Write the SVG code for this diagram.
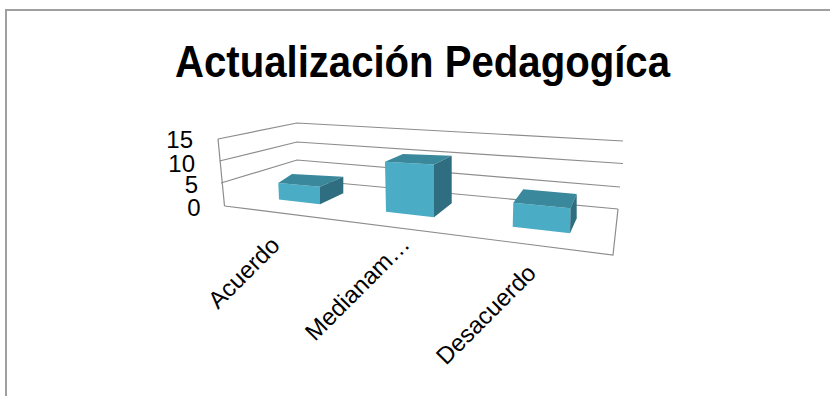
<svg xmlns="http://www.w3.org/2000/svg" width="830" height="396" viewBox="0 0 830 396">
<style>
.grid{stroke:#8c8c8c;stroke-width:1.2;fill:none}
.lbl{font-family:"Liberation Sans",Arial,sans-serif;font-size:24px;fill:#000}
.front{fill:#4bacc6}
.top{fill:#3a889c}
.side{fill:#2e6e80}
</style>
<rect x="6" y="10" width="830" height="400" fill="#fff" stroke="#a0a0a0" stroke-width="2"/>
<text id="title" x="175" y="77" font-family="'Liberation Sans',Arial,sans-serif" font-weight="bold" font-size="44" textLength="495" lengthAdjust="spacingAndGlyphs">Actualización Pedagogíca</text>
<g id="axes">
<polyline class="grid" points="218,139 297,123 623,141"/>
<polyline class="grid" points="219.5,161 297,142 623,163.5"/>
<polyline class="grid" points="221,183 297,160 620,187"/>
<line class="grid" x1="218" y1="139" x2="224.5" y2="206"/>
<line class="grid" x1="294" y1="179" x2="618" y2="209"/>
<polyline class="grid" points="224.5,206 613,255 618,209"/>
</g>
<g id="ylabels" class="lbl" text-anchor="end">
<text x="193" y="148">15</text>
<text x="195" y="171.5">10</text>
<text x="198" y="193">5</text>
<text x="200.5" y="215.5">0</text>
</g>
<g id="bar-acuerdo">
<polygon class="front" points="278.3,183 320,186.7 320,204.3 279,199.5"/>
<polygon class="top" points="278.3,183 292,174 343.3,176.7 320,186.7"/>
<polygon class="side" points="320,186.7 343.3,176.7 343.3,193.3 320,204.3"/>
</g>
<g id="bar-medianamente">
<polygon class="front" points="385,161.7 434,164.5 434,217.3 386,211.7"/>
<polygon class="top" points="385,161.7 403,154 451.7,155.7 434,164.5"/>
<polygon class="side" points="434,164.5 451.7,155.7 451.7,203.3 434,217.3"/>
</g>
<g id="bar-desacuerdo">
<polygon class="front" points="513.3,202.7 570.5,208.3 570,233.3 512.7,226.7"/>
<polygon class="top" points="513.3,202.7 523.3,189.3 576.7,194 570.5,208.3"/>
<polygon class="side" points="570.5,208.3 576.7,194 576.7,218.3 570,233.3"/>
</g>
<g id="xlabels" class="lbl">
<text transform="translate(218,310) rotate(-45)">Acuerdo</text>
<text transform="translate(315,342) rotate(-45)">Medianam…</text>
<text transform="translate(446,366) rotate(-45)">Desacuerdo</text>
</g>
</svg>
